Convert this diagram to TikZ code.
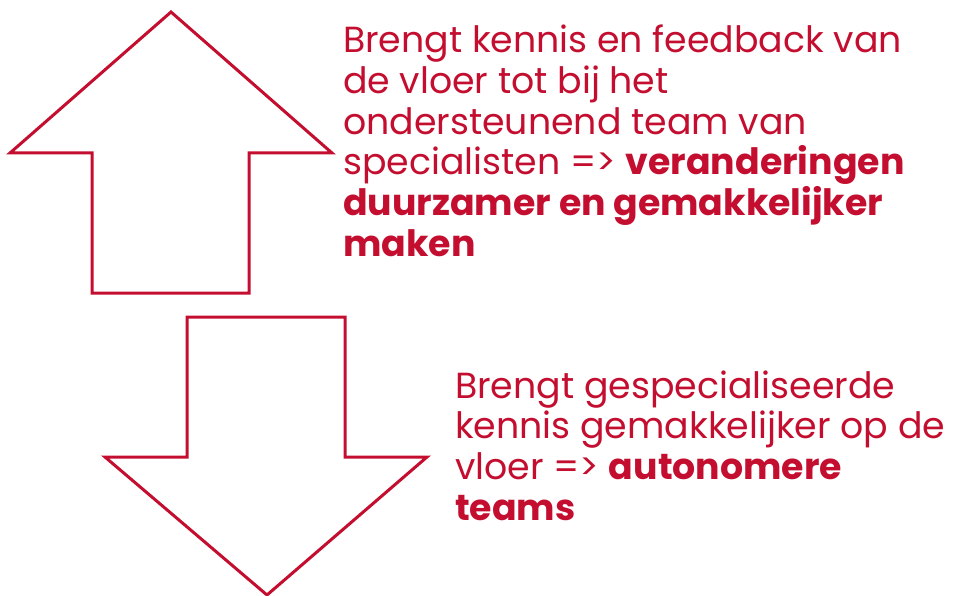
\documentclass[tikz,border=0pt]{standalone}
\usepackage{fontspec}
\setmainfont{Poppins}
\definecolor{crimson}{RGB}{196,14,48}

\tikzstyle{blockarrow}=[draw=crimson,line width=3pt,line join=miter]
\tikzstyle{caption}=[anchor=base west,align=left,inner sep=0pt,text=crimson,font=\fontsize{36.3}{40.6}\selectfont]

\begin{document}
\begin{tikzpicture}[x=1pt, y=-1pt]
		\useasboundingbox (0,0) rectangle (953,596);

		% upward arrow
		\draw [blockarrow] (171,12) -- (332,153) -- (249,153) -- (249,293)
			-- (92,293) -- (92,153) -- (10,153) -- cycle;
		% downward arrow
		\draw [blockarrow] (187,317) -- (345,317) -- (345,457) -- (427,457)
			-- (267,595) -- (105,457) -- (187,457) -- cycle;

		% texts, placed by the baseline of their last line
		\node [caption] (upText)   at (343,256)  {Brengt kennis en feedback van\\de vloer tot bij het\\ondersteunend team van\\specialisten => \textbf{veranderingen}\\\textbf{duurzamer en gemakkelijker}\\\textbf{maken}};
		\node [caption] (downText) at (455,520)  {Brengt gespecialiseerde\\kennis gemakkelijker op de\\vloer => \textbf{autonomere}\\\textbf{teams}};
	\end{tikzpicture}
\end{document}
